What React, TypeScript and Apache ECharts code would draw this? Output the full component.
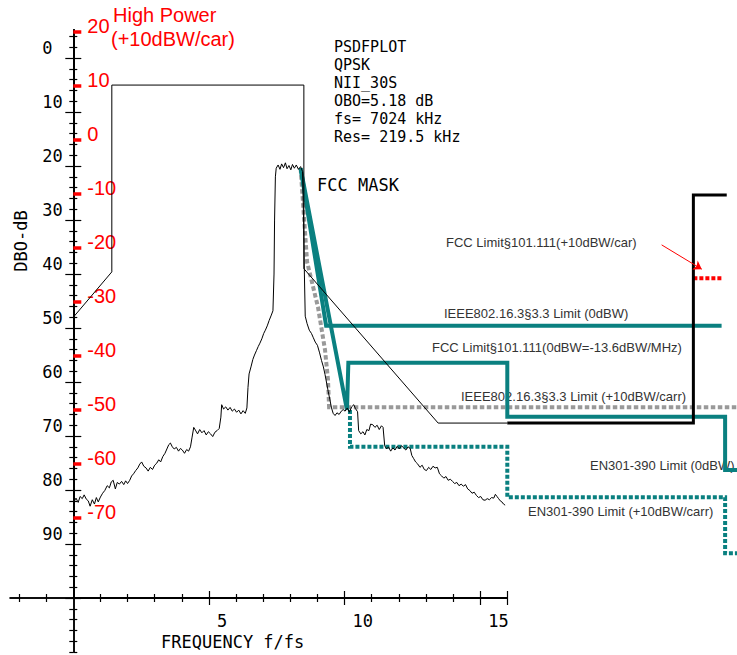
import React, { useEffect, useRef } from "react";
import * as echarts from "echarts";

// ---- tick / label values ----
const yLabelValues = [0, 10, 20, 30, 40, 50, 60, 70, 80, 90];
const yMajorTickValues = [0, 10, 20, 30, 40, 50, 60, 70, 80, 90, 100];
const yMinorTickValues = [-4, -2, 2, 4, 6, 8, 12, 14, 16, 18, 22, 24, 26, 28, 32, 34, 36, 38, 42, 44, 46, 48, 52, 54, 56, 58, 62, 64, 66, 68, 72, 74, 76, 78, 82, 84, 86, 88, 92, 94, 96, 98];
const yExtTickValues = [102, 104, 106, 108, 110];
const redLabelValues = [20, 10, 0, -10, -20, -30, -40, -50, -60, -70];
const xLabelValues = [5, 10, 15];
const xMajorTickValues = [5, 10, 15, 16];
const xMinorTickValues = [1, 2, 3, 4, 6, 7, 8, 9, 11, 12, 13, 14];
const xNegTickValues = [-2, -1];
const redOffset = 15.18; // DBO = 15.18 - dBW

// ---- series data: [f/fs, DBO-dB] ----
const spectrum: [number, number][] = [
  [0.0, 82.4], [0.1, 81.5], [0.18, 82.3], [0.25, 81.2], [0.33, 81.6], [0.4, 80.9], [0.48, 81.7], [0.55, 82.0],
  [0.62, 83.0], [0.7, 81.8], [0.78, 82.6], [0.85, 81.4], [0.92, 82.2], [1.0, 81.3], [1.08, 80.6], [1.16, 80.1],
  [1.25, 79.2], [1.33, 79.6], [1.4, 78.5], [1.47, 78.2], [1.55, 79.8], [1.62, 78.6], [1.7, 78.9], [1.78, 78.4],
  [1.86, 79.0], [1.93, 78.3], [2.0, 78.8], [2.08, 78.2], [2.15, 77.4], [2.22, 77.0], [2.3, 76.4], [2.38, 75.9],
  [2.45, 75.2], [2.52, 74.8], [2.6, 75.6], [2.68, 75.9], [2.76, 76.5], [2.84, 75.8], [2.92, 76.2], [3.0, 75.4],
  [3.08, 75.0], [3.15, 74.4], [3.22, 74.8], [3.3, 73.8], [3.38, 73.2], [3.45, 72.4], [3.52, 71.6], [3.58, 71.3],
  [3.65, 72.0], [3.72, 72.4], [3.8, 72.1], [3.88, 72.8], [3.95, 72.3], [4.02, 72.6], [4.1, 73.2], [4.18, 72.5],
  [4.25, 72.8], [4.32, 72.0], [4.38, 70.2], [4.44, 68.4], [4.5, 68.9], [4.58, 69.6], [4.66, 68.8], [4.74, 69.4],
  [4.82, 69.0], [4.9, 69.8], [4.98, 69.2], [5.06, 69.6], [5.14, 70.1], [5.22, 69.3], [5.3, 69.0], [5.38, 68.6],
  [5.44, 66.5], [5.47, 64.2], [5.54, 65.0], [5.62, 64.6], [5.7, 65.2], [5.78, 64.7], [5.86, 65.4], [5.94, 65.0],
  [6.02, 65.6], [6.1, 65.2], [6.18, 65.9], [6.26, 65.3], [6.34, 65.8], [6.4, 64.8], [6.44, 61.0], [6.48, 58.5],
  [6.55, 57.2], [6.62, 55.8], [6.68, 55.0], [6.75, 54.2], [6.82, 53.4], [6.88, 52.8], [6.95, 52.0], [7.02, 51.0],
  [7.08, 50.4], [7.15, 49.6], [7.22, 48.6], [7.3, 47.6], [7.36, 46.8], [7.4, 40.0], [7.42, 30.0], [7.45, 22.0],
  [7.48, 20.4], [7.55, 19.8], [7.62, 20.6], [7.68, 19.6], [7.75, 20.3], [7.82, 19.4], [7.88, 20.5], [7.95, 19.9],
  [8.02, 20.7], [8.08, 19.7], [8.15, 20.4], [8.22, 19.8], [8.3, 20.6], [8.38, 20.1], [8.45, 21.0], [8.49, 30.0],
  [8.52, 40.0], [8.55, 47.8], [8.62, 49.2], [8.7, 50.4], [8.78, 51.0], [8.85, 51.8], [8.92, 52.6], [9.0, 53.2],
  [9.08, 54.6], [9.15, 56.0], [9.22, 57.2], [9.28, 58.6], [9.34, 60.2], [9.4, 61.8], [9.46, 63.3], [9.52, 64.8],
  [9.58, 65.8], [9.65, 66.2], [9.72, 65.7], [9.8, 66.0], [9.88, 65.4], [9.95, 65.1], [10.02, 65.4], [10.1, 64.8],
  [10.18, 65.6], [10.26, 64.6], [10.34, 64.2], [10.4, 64.9], [10.48, 65.5], [10.52, 69.0], [10.6, 69.6], [10.68, 69.2],
  [10.75, 69.8], [10.82, 68.8], [10.9, 69.0], [10.96, 67.8], [11.04, 67.9], [11.12, 68.4], [11.2, 68.0], [11.28, 68.8],
  [11.36, 68.1], [11.42, 68.4], [11.48, 71.8], [11.55, 72.4], [11.62, 72.0], [11.7, 72.8], [11.78, 72.2], [11.86, 72.6],
  [11.94, 71.9], [12.02, 72.4], [12.1, 71.8], [12.18, 72.2], [12.26, 72.6], [12.34, 72.0], [12.42, 72.3], [12.48, 73.6],
  [12.55, 74.2], [12.62, 74.8], [12.7, 75.2], [12.78, 75.8], [12.86, 75.4], [12.94, 76.2], [13.02, 76.4], [13.1, 75.8],
  [13.18, 76.2], [13.26, 75.6], [13.34, 75.9], [13.42, 75.8], [13.5, 77.0], [13.58, 77.4], [13.66, 77.8], [13.74, 77.5],
  [13.82, 78.2], [13.9, 78.0], [13.98, 78.4], [14.06, 78.8], [14.14, 78.6], [14.22, 79.2], [14.3, 78.9], [14.38, 79.3],
  [14.46, 79.0], [14.54, 79.8], [14.62, 80.1], [14.7, 80.6], [14.78, 80.4], [14.86, 81.0], [14.94, 81.4], [15.02, 81.2],
  [15.1, 81.8], [15.18, 81.9], [15.26, 81.6], [15.34, 81.8], [15.42, 81.4], [15.5, 81.5], [15.56, 80.8], [15.62, 81.2],
  [15.68, 81.6], [15.74, 82.0], [15.8, 82.2], [15.86, 82.6], [15.92, 82.8],
];
const fccMask: [number, number][] = [[0, 48], [1.42, 39.6], [1.42, 5], [8.5, 5], [8.5, 39], [13.45, 67.6], [16, 67.6]];
const fccLimitHigh: [number, number][] = [[16, 67.6], [22.86, 67.6], [22.86, 25.35], [24.09, 25.35]];
const ieee0dBW: [number, number][] = [[8.38, 20.4], [9.32, 49.56], [23.9, 49.56]];
const fcc0dBW: [number, number][] = [[8.38, 20.4], [10.09, 65.17], [10.14, 56.41], [16, 56.41], [16, 66.41], [24.03, 66.41], [24.03, 76.28], [24.47, 76.28]];
const en301High: [number, number][] = [[10.2, 65.2], [10.2, 71.97], [16, 71.97], [16, 81.34], [24.03, 81.34], [24.03, 91.7], [24.47, 91.7]];
const ieeeHigh: [number, number][] = [[8.38, 20.4], [8.62, 37.8], [9.02, 46.1], [9.28, 54.06], [9.39, 59.6], [9.43, 64.67], [24.47, 64.67]];
const fccHighMarker: [number, number][] = [[22.86, 40.78], [23.95, 40.78]];
const arrowLine: [number, number][] = [[21.69, 34.6], [23.17, 39.1]];

const infoLines = ["PSDFPLOT", "QPSK", "NII_30S", "OBO=5.18 dB", "fs= 7024 kHz", "Res= 219.5 kHz"];
const infoY = [47, 65, 83, 101, 119, 137];

// ---- layout ----
const X0 = 73.3;
const PXU = 27.125;
const xAxisMin = -2.33;
const xAxisMax = 16;
const dataXMax = 24.5;
const yMin = -5.2;
const yMax = 100;
const yExtMax = 110;
const TOP = 30;
const PH = 568;

const MONO = "'DejaVu Sans Mono', monospace";
const SANS = "'Liberation Sans', Arial, sans-serif";
const TEAL = "#0a8080";

export default function App() {
  const ref = useRef<HTMLDivElement>(null);
  useEffect(() => {
    if (!ref.current) return;
    const chart = echarts.init(ref.current, undefined, { renderer: "svg" });

    const axisLineStyle = { color: "#000", width: 1.5 };
    const tickStyle = { color: "#000", width: 1.2 };
    const mkX = (grid: number, min: number, max: number, ticks: number[], inside: boolean, len: number, labels: boolean) => ({
      type: "value", gridIndex: grid, min, max, position: "bottom",
      axisLine: { show: true, onZero: false, lineStyle: axisLineStyle },
      axisTick: { show: true, inside, length: len, customValues: ticks, lineStyle: tickStyle },
      axisLabel: labels
        ? { show: true, customValues: xLabelValues, align: "left", padding: [0, 0, 0, 8], margin: 14.5, color: "#000", fontFamily: MONO, fontSize: 17 }
        : { show: false },
      splitLine: { show: false },
    });
    const mkY = (ticks: number[], inside: boolean, len: number, labels: boolean) => ({
      type: "value", gridIndex: 0, min: yMin, max: yMax, inverse: true, position: "left",
      axisLine: { show: true, onZero: false, lineStyle: axisLineStyle },
      axisTick: { show: true, inside, length: len, customValues: ticks, lineStyle: tickStyle },
      axisLabel: labels
        ? { show: true, customValues: yLabelValues, align: "left", verticalAlign: "bottom", lineHeight: 21, margin: 31, color: "#000", fontFamily: MONO, fontSize: 17 }
        : { show: false },
      splitLine: { show: false },
    });
    const mkExt = (inside: boolean) => ({
      type: "value", gridIndex: 2, min: yMax, max: yExtMax, inverse: true, position: "left",
      axisLine: { show: true, onZero: false, lineStyle: axisLineStyle },
      axisTick: { show: true, inside, length: 4, customValues: yExtTickValues, lineStyle: tickStyle },
      axisLabel: { show: false },
      splitLine: { show: false },
    });

    const line = (name: string, data: [number, number][], color: string, width: number, dash?: number[], extra?: any) => ({
      type: "line", name, xAxisIndex: 4, yAxisIndex: 5, data, showSymbol: false, symbol: "none",
      lineStyle: { color, width, type: dash ? dash : "solid", cap: "butt", join: "miter" },
      silent: true, clip: false, ...(extra || {}),
    });

    const txt = (text: string, x: number, y: number, font: string, fill: string, lh: number, align = "left", rotation = 0) => ({
      type: "text", x, y, rotation, silent: true,
      style: { text, font, fill, lineHeight: lh, textAlign: align, textVerticalAlign: "middle", align, verticalAlign: "middle" },
    });

    const graphics: any[] = [
      txt("High Power", 113, 15, `20px ${SANS}`, "#ff0000", 20),
      txt("(+10dBW/car)", 111, 39, `20px ${SANS}`, "#ff0000", 20),
      ...infoLines.map((t, i) => txt(t, 334, infoY[i], `15px ${MONO}`, "#000", 15)),
      txt("FCC MASK", 317, 185, `17px ${MONO}`, "#000", 16),
      txt("DBO-dB", 20.5, 241, `17px ${MONO}`, "#000", 16, "center", Math.PI / 2),
      txt("FREQUENCY f/fs", 161, 642, `17px ${MONO}`, "#000", 16),
      txt("FCC Limit§101.111(+10dBW/car)", 446, 242, `13px ${SANS}`, "#333", 14),
      txt("IEEE802.16.3§3.3 Limit (0dBW)", 444, 313, `13px ${SANS}`, "#333", 14),
      txt("FCC Limit§101.111(0dBW=-13.6dBW/MHz)", 432, 347, `13px ${SANS}`, "#333", 14),
      txt("IEEE802.16.3§3.3 Limit (+10dBW/carr)", 461, 396, `13px ${SANS}`, "#333", 14),
      txt("EN301-390 Limit (0dBW)", 590, 465, `13px ${SANS}`, "#333", 14),
      txt("EN301-390 Limit (+10dBW/carr)", 528, 511, `13px ${SANS}`, "#333", 14),
    ];

    const g = (left: number, top: number, width: number, height: number) => ({
      left, top, width, height, containLabel: false, outerBoundsMode: "none",
    });

    chart.setOption({
      animation: false,
      backgroundColor: "#fff",
      grid: [
        g(X0, TOP, xAxisMax * PXU, PH),
        g(X0, TOP, dataXMax * PXU, PH),
        g(X0, TOP + PH, 20, 54),
        g(X0 + xAxisMin * PXU, TOP, -xAxisMin * PXU, PH),
      ],
      xAxis: [
        mkX(0, 0, xAxisMax, xMinorTickValues, false, 4, false),
        mkX(0, 0, xAxisMax, xMinorTickValues, true, 4, false),
        mkX(0, 0, xAxisMax, xMajorTickValues, false, 7, true),
        mkX(0, 0, xAxisMax, xMajorTickValues, true, 7, false),
        { type: "value", gridIndex: 1, min: 0, max: dataXMax, show: false },
        { type: "value", gridIndex: 2, min: 0, max: 1, show: false },
        mkX(3, xAxisMin, 0, xNegTickValues, false, 4, false),
        mkX(3, xAxisMin, 0, xNegTickValues, true, 4, false),
      ],
      yAxis: [
        mkY(yMinorTickValues, false, 4, false),
        mkY(yMinorTickValues, true, 4, false),
        mkY(yMajorTickValues, false, 8, true),
        mkY(yMajorTickValues, true, 8, false),
        {
          type: "value", gridIndex: 0, min: redOffset - yMax, max: redOffset - yMin, position: "left",
          axisLine: { show: true, onZero: false, lineStyle: axisLineStyle },
          axisTick: { show: true, inside: true, length: 8, customValues: redLabelValues, lineStyle: { color: "#ff0000", width: 3.5 } },
          axisLabel: { show: true, inside: true, customValues: redLabelValues, align: "left", verticalAlign: "bottom", lineHeight: 12, margin: 14, color: "#ff0000", fontFamily: SANS, fontSize: 20 },
          splitLine: { show: false },
        },
        { type: "value", gridIndex: 1, min: yMin, max: yMax, inverse: true, show: false },
        mkExt(false),
        mkExt(true),
        { type: "value", gridIndex: 3, min: yMin, max: yMax, inverse: true, show: false },
      ],
      series: [
        line("IEEE802.16.3 +10dBW/carr", ieeeHigh, "#999999", 4, [4.5, 2.5]),
        line("EN301-390 +10dBW/carr", en301High, TEAL, 4, [4, 2]),
        line("FCC +10dBW/car marker", fccHighMarker, "#ff0000", 4, [4, 2], {
          markLine: {
            silent: true, symbol: ["none", "arrow"], symbolSize: 8, animation: false,
            label: { show: false },
            lineStyle: { color: "#ff0000", width: 1, type: "solid" },
            data: [[{ coord: arrowLine[0] }, { coord: arrowLine[1] }]],
          },
        }),
        line("IEEE802.16.3 0dBW", ieee0dBW, TEAL, 4),
        line("FCC 0dBW", fcc0dBW, TEAL, 4),
        line("FCC +10dBW/car", fccLimitHigh, "#000", 3),
        line("FCC MASK", fccMask, "#000", 1),
        line("PSD", spectrum, "#000", 1),
      ],
      graphic: graphics,
    });
    return () => chart.dispose();
  }, []);
  return <div ref={ref} style={{ position: "fixed", left: 0, top: 0, width: 737, height: 655, background: "#fff" }} />;
}
